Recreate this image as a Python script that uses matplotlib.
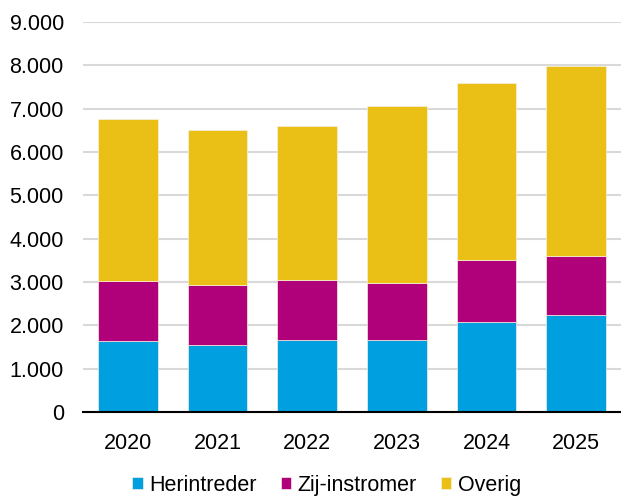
import matplotlib
matplotlib.use("Agg")
import matplotlib.pyplot as plt
from matplotlib.ticker import FuncFormatter

years = ["2020", "2021", "2022", "2023", "2024", "2025"]
herintreder = [1640, 1550, 1665, 1655, 2080, 2240]
zij_instromer = [1385, 1385, 1375, 1325, 1440, 1350]
overig = [3745, 3580, 3560, 4070, 4060, 4400]

colors = ["#009FDF", "#B0007A", "#EBC016"]
labels = ["Herintreder", "Zij-instromer", "Overig"]

plt.rcParams["font.family"] = ["Liberation Sans", "DejaVu Sans"]

fig = plt.figure(figsize=(6.21, 4.96), dpi=100)
ax = fig.add_axes([0.134, 0.169, 0.866, 0.787])

x = list(range(len(years)))
bottom = [0] * len(years)
for vals, c, lab in zip([herintreder, zij_instromer, overig], colors, labels):
    ax.bar(x, vals, width=0.665, bottom=bottom, color=c, label=lab,
           edgecolor="#f5f0e0", linewidth=0.5, zorder=3)
    bottom = [b + v for b, v in zip(bottom, vals)]

ax.set_xlim(-0.5, 5.5)
ax.set_ylim(0, 9000)
ax.set_yticks(range(0, 9001, 1000))
ax.yaxis.set_major_formatter(FuncFormatter(lambda v, p: f"{int(v):,}".replace(",", ".")))
ax.set_xticks(x)
ax.set_xticklabels(years)
ax.tick_params(axis="both", length=0, labelsize=15.5, colors="#000000")
ax.tick_params(axis="x", pad=15)
ax.tick_params(axis="y", pad=14)
ax.grid(axis="y", color="#d9d9d9", linewidth=1.5, zorder=0)
for s in ["top", "right", "left"]:
    ax.spines[s].set_visible(False)
ax.spines["bottom"].set_color("#000000")
ax.spines["bottom"].set_linewidth(1.5)
ax.spines["bottom"].set_zorder(4)

fig.legend(loc="center", bbox_to_anchor=(0.526, 0.022), ncol=3, frameon=False,
           fontsize=15.5, handlelength=0.5, handleheight=0.5, handletextpad=0.3,
           columnspacing=1.1, borderaxespad=0, borderpad=0)

fig.savefig("out.png", dpi=100)
